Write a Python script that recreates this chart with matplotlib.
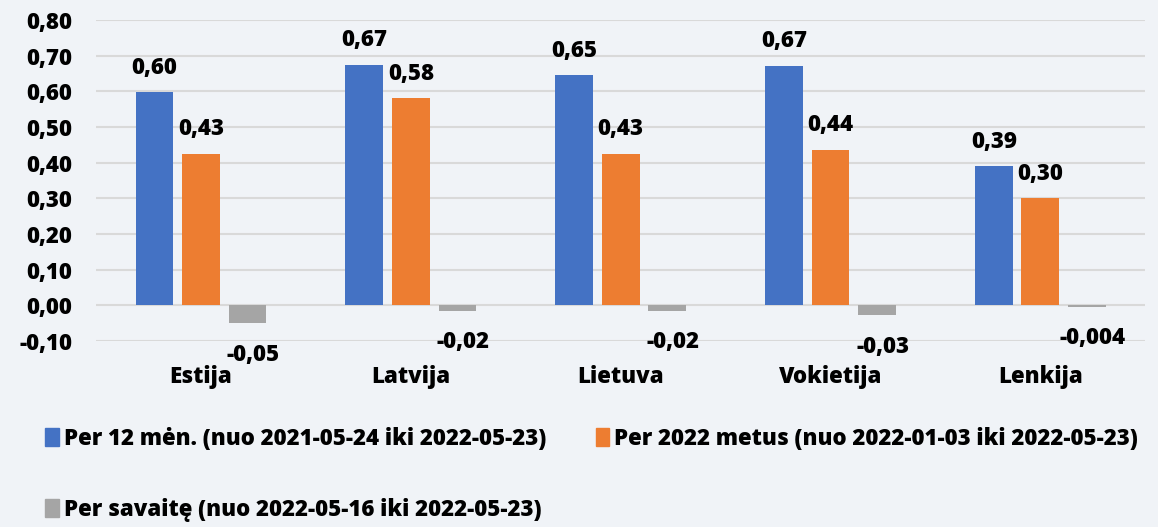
import numpy as np
import matplotlib
matplotlib.use('Agg')
import matplotlib.pyplot as plt
from matplotlib.patches import Patch

countries = ['Estija', 'Latvija', 'Lietuva', 'Vokietija', 'Lenkija']
per_12m = [0.597, 0.675, 0.645, 0.672, 0.390]
per_2022 = [0.425, 0.580, 0.425, 0.436, 0.300]
per_week = [-0.050, -0.015, -0.015, -0.028, -0.004]
lbl_12m = ['0,60', '0,67', '0,65', '0,67', '0,39']
lbl_2022 = ['0,43', '0,58', '0,43', '0,44', '0,30']
lbl_week = ['-0,05', '-0,02', '-0,02', '-0,03', '-0,004']
series_names = ['Per 12 mėn. (nuo 2021-05-24 iki 2022-05-23)',
                'Per 2022 metus (nuo 2022-01-03 iki 2022-05-23)',
                'Per savaitę (nuo 2022-05-16 iki 2022-05-23)']
yticks = [-0.1, 0.0, 0.1, 0.2, 0.3, 0.4, 0.5, 0.6, 0.7, 0.8]

colors = ['#4472C4', '#ED7D31', '#A5A5A5']
bg = '#F0F3F7'

plt.rcParams['font.family'] = ['Open Sans', 'DejaVu Sans']
wt = 800
fs = 16

fig = plt.figure(figsize=(11.58, 5.27), dpi=100, facecolor=bg)
ax = fig.add_axes([0.083, 0.353, 0.906, 0.609], facecolor=bg)

x = np.arange(len(countries))
w = 0.18
step = 0.222
bars = []
for i, vals in enumerate([per_12m, per_2022, per_week]):
    b = ax.bar(x + (i - 1) * step, vals, w, color=colors[i], zorder=3)
    bars.append(b)

for b, lbls in zip(bars[:2], [lbl_12m, lbl_2022]):
    for r, t in zip(b, lbls):
        ax.annotate(t, (r.get_x() + r.get_width() / 2, r.get_height()),
                    xytext=(0, 9), textcoords='offset points',
                    ha='center', va='bottom', fontsize=fs, fontweight=wt)
for r, t in zip(bars[2], lbl_week):
    ax.annotate(t, (r.get_x() + r.get_width() / 2, r.get_height()),
                xytext=(4, -14), textcoords='offset points',
                ha='center', va='top', fontsize=fs, fontweight=wt)

ax.set_ylim(-0.1, 0.8)
ax.set_xlim(-0.5, len(countries) - 0.5)
ax.set_yticks(yticks)
ax.set_yticklabels([('%.2f' % v).replace('.', ',') for v in yticks])
ax.set_xticks(x)
ax.set_xticklabels(countries)
ax.tick_params(axis='y', length=0, pad=17, labelsize=fs)
ax.tick_params(axis='x', length=0, pad=17, labelsize=fs)
for lab in ax.get_xticklabels() + ax.get_yticklabels():
    lab.set_fontweight(wt)
ax.grid(axis='y', color='#D9D9D9', linewidth=1.5, zorder=0)
for s in ax.spines.values():
    s.set_visible(False)

# column-major fill: blue, grey in col 1, orange in col 2
order = [0, 2, 1]
handles = [Patch(color=colors[i]) for i in order]
fig.legend(handles, [series_names[i] for i in order], loc='upper left',
           bbox_to_anchor=(0.022, 0.228), ncol=2, frameon=False,
           handlelength=0.6, handleheight=0.9, handletextpad=0.25,
           columnspacing=2.2, labelspacing=2.1,
           prop={'weight': wt, 'size': 16})

fig.savefig('out.png', dpi=100, facecolor=bg)
